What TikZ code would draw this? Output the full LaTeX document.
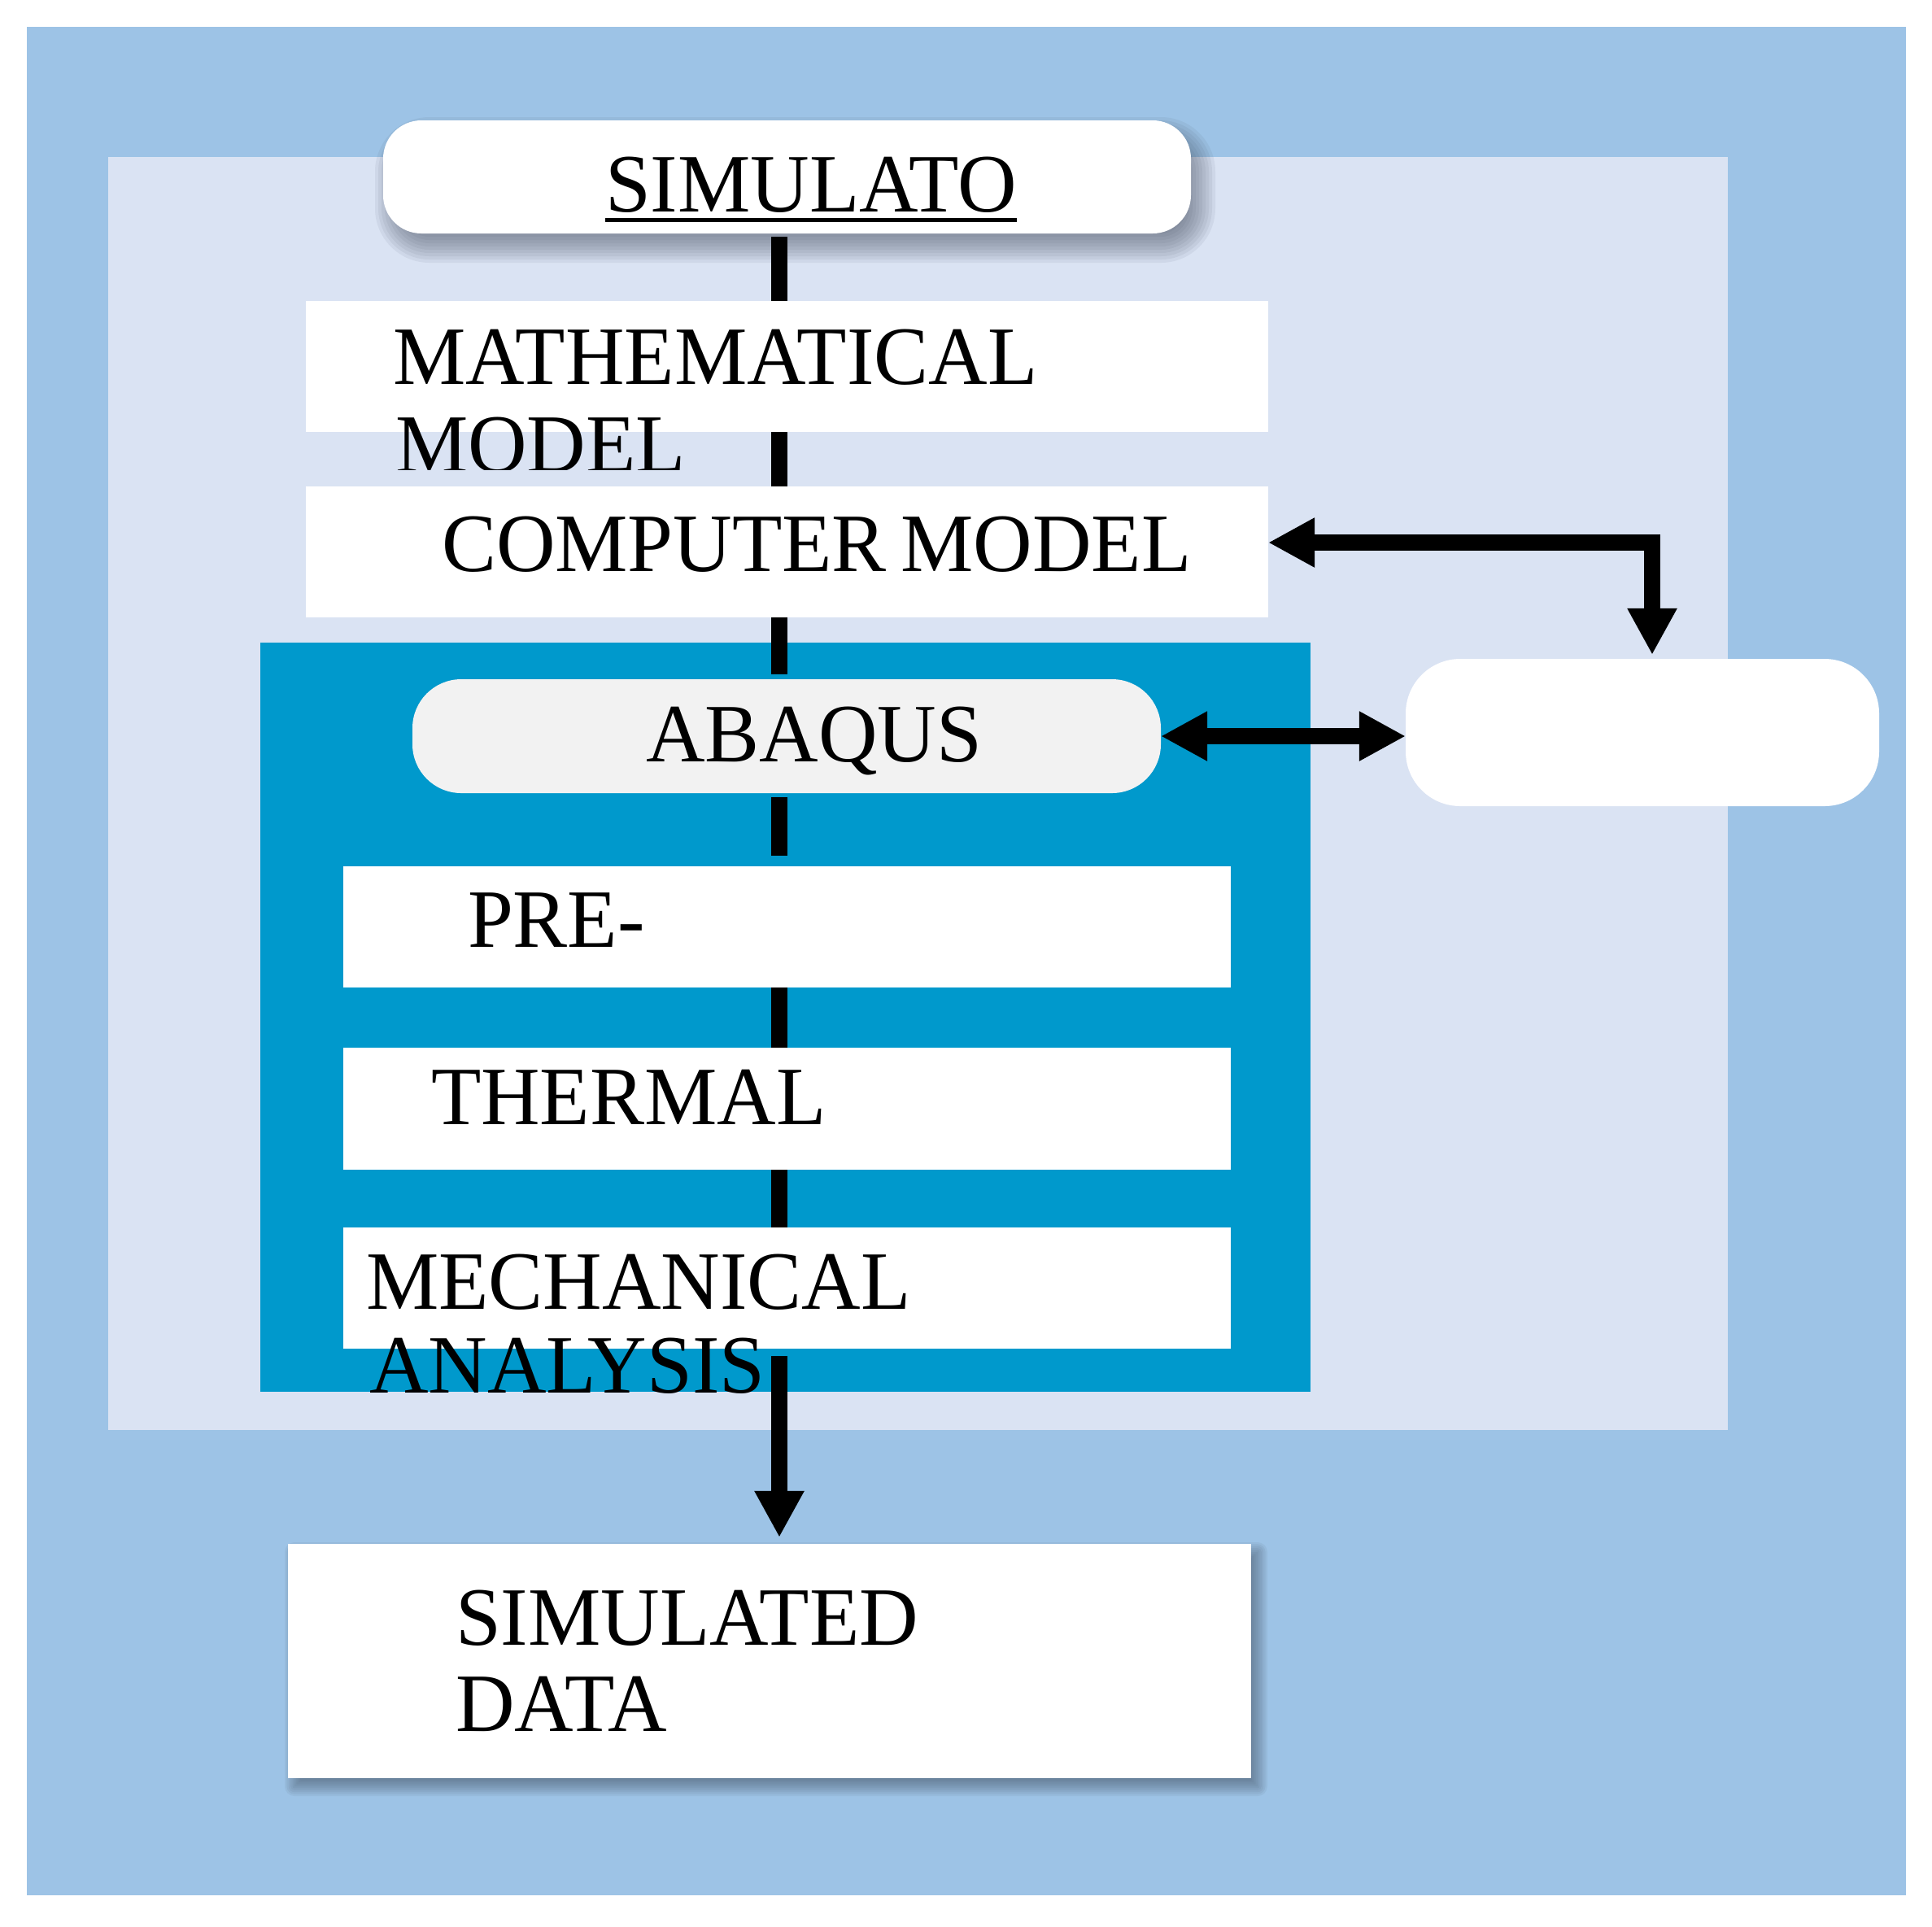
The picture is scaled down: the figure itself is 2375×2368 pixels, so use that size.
\documentclass[tikz,border=0pt]{standalone}
\usepackage{fontspec}
\setmainfont{Liberation Serif}[FakeStretch=0.985]
\usetikzlibrary{arrows.meta,fit,calc}
\definecolor{outerblue}{HTML}{9DC3E6}
\definecolor{lightblue}{HTML}{DAE3F3}
\definecolor{tealbox}{HTML}{0099CC}
\definecolor{abaqusgray}{HTML}{F2F2F2}
\definecolor{shadowc}{HTML}{3C4658}
\pgfdeclarelayer{panels}
\pgfdeclarelayer{shadows}
\pgfsetlayers{panels,shadows,main}
\newcommand\softshadow[5]{%
  \foreach \k in {0,...,10}{%
    \pgfmathsetmacro\ee{#4-\k*#4/5}%
    \pgfmathsetmacro\rr{max(#5+\ee,0.5)*0.01}%
    \pgfmathsetmacro\ax{#2-\ee}%
    \pgfmathsetmacro\ay{#3-\ee}%
    \pgfmathsetmacro\bx{#2+\ee}%
    \pgfmathsetmacro\by{#3+\ee}%
    \fill[shadowc, opacity=0.07, rounded corners=\rr cm]
      ([shift={(\ax,\ay)}]#1.north west) rectangle
      ([shift={(\bx,\by)}]#1.south east);
  }}
\tikzset{
  panel/.style={inner sep=0pt, outer sep=0pt, draw=none},
  whitebox/.style={panel, fill=white},
  lbl/.style={font=\fontsize{29}{30.7}\selectfont, inner sep=0pt, outer sep=0pt, anchor=base west},
  conn/.style={line width=0.2cm, black},
  arr/.style={conn, -{Triangle[length=0.57cm,width=0.57cm]}},
  dblarr/.style={conn, {Triangle[length=0.57cm,width=0.57cm]}-{Triangle[length=0.57cm,width=0.57cm]}},
}
\begin{document}
\begin{tikzpicture}[x=0.01cm,y=-0.01cm]
\useasboundingbox (0,0) rectangle (2375,2368);
% panels
\begin{pgfonlayer}{panels}
\node[panel, fill=outerblue, fit={(33,33) (2343,2330)}] (outer) {};
\node[panel, fill=lightblue, fit={(133,193) (2124,1758)}] (inner) {};
\node[panel, fill=tealbox, fit={(320,790) (1611,1711)}] (abqpanel) {};
\end{pgfonlayer}
% boxes
\node[whitebox, rounded corners=0.47cm, fit={(471,148) (1464,287)}] (simu) {};
\node[whitebox, fit={(376,370) (1559,531)}] (math) {};
\node[whitebox, fit={(376,598) (1559,759)}] (comp) {};
\node[panel, fill=abaqusgray, rounded corners=0.6cm, fit={(507,835) (1427,975)}] (abaqus) {};
\node[whitebox, rounded corners=0.67cm, fit={(1728,810) (2310,991)}] (rbox) {};
\node[whitebox, fit={(422,1065) (1513,1214)}] (pre) {};
\node[whitebox, fit={(422,1288) (1513,1438)}] (therm) {};
\node[whitebox, fit={(422,1509) (1513,1658)}] (mech) {};
\node[whitebox, fit={(354,1898) (1538,2186)}] (sim) {};
% shadows
\begin{pgfonlayer}{shadows}
\softshadow{simu}{10}{16}{20}{47}
\softshadow{sim}{8}{10}{12}{0}
\end{pgfonlayer}
% connectors
\coordinate (spine) at (958,0);
\coordinate (bend) at (2031,667);
\draw[conn, shorten <=0.04cm] (simu.south -| spine) -- (math.north -| spine);
\draw[conn] (math.south -| spine) -- (comp.north -| spine);
\draw[conn, shorten >=0.06cm] (comp.south -| spine) -- (abaqus.north -| spine);
\draw[conn, shorten <=0.05cm, shorten >=0.13cm] (abaqus.south -| spine) -- (pre.north -| spine);
\draw[conn] (pre.south -| spine) -- (therm.north -| spine);
\draw[conn] (therm.south -| spine) -- (mech.north -| spine);
\draw[arr, shorten <=0.09cm, shorten >=0.08cm] (mech.south -| spine) -- (sim.north -| spine);
\draw[dblarr, shorten >=0.05cm] (bend -| comp.east) -- (bend) -- (bend |- rbox.north);
\draw[dblarr] (abaqus.east) -- (abaqus.east -| rbox.west);
% texts
\node[lbl] (simut) at (744,260) {SIMULATO};
\draw[line width=0.05cm] ([yshift=-0.1cm]simut.base west) -- ([yshift=-0.1cm]simut.base east);
\node[lbl] (matht1) at (483,472) {MATHEMATICAL};
\begin{scope}
\clip (0,0) rectangle (2375,577);
\node[lbl] (matht2) at (486,580) {MODEL};
\end{scope}
\node[lbl] (compt) at (543,702) {COMPUTER\hspace{5pt}MODEL};
\node[lbl] (abqt) at (794,936) {ABAQUS};
\node[lbl] (pret) at (575,1164) {PRE-};
\node[lbl] (thermt) at (530,1382) {THERMAL};
\node[lbl] (mecht1) at (450,1609) {MECHANICAL};
\node[lbl] (mecht2) at (454,1712) {ANALYSIS};
\node[lbl] (simt1) at (560,2022) {SIMULATED};
\node[lbl] (simt2) at (560,2128) {DATA};
\end{tikzpicture}
\end{document}
